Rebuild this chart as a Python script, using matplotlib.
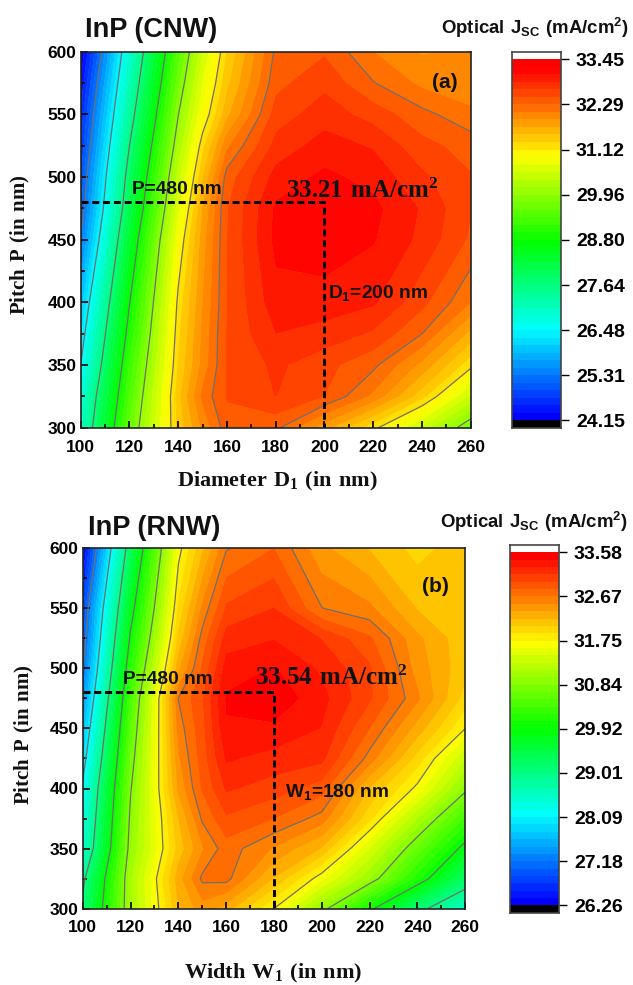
import numpy as np
import matplotlib
matplotlib.use("Agg")
import matplotlib.pyplot as plt
from matplotlib.colors import LinearSegmentedColormap, ListedColormap, BoundaryNorm
from matplotlib.ticker import MultipleLocator

plt.rcParams['font.family'] = ['Liberation Sans']
plt.rcParams['mathtext.fontset'] = 'custom'
plt.rcParams['mathtext.bf'] = 'Liberation Sans:bold'
plt.rcParams['mathtext.rm'] = 'Liberation Serif:bold'
plt.rcParams['mathtext.default'] = 'regular'

W, H = 633, 985

x_nm = [100, 120, 140, 150, 160, 180, 200, 220, 240, 260]

p_a = [300, 325, 350, 375, 400, 450, 475, 500, 525, 550, 575, 600]
z_a = [
    [27.01, 29.62, 31.39, 31.95, 32.40, 32.34, 31.80, 31.20, 30.50, 29.75],
    [26.81, 29.41, 31.45, 32.15, 32.50, 32.68, 32.48, 32.05, 31.40, 30.50],
    [26.48, 29.22, 31.34, 31.98, 32.50, 32.72, 32.55, 32.34, 31.85, 31.20],
    [26.24, 28.99, 31.27, 31.95, 32.50, 32.87, 32.80, 32.65, 32.29, 31.65],
    [25.98, 28.78, 31.19, 31.90, 32.48, 32.99, 32.97, 32.90, 32.55, 32.10],
    [25.35, 28.34, 30.92, 31.81, 32.48, 33.12, 33.20, 33.08, 32.82, 32.45],
    [25.10, 28.06, 30.68, 31.72, 32.47, 33.10, 33.21, 33.12, 32.85, 32.50],
    [24.95, 27.88, 30.45, 31.51, 32.38, 32.95, 33.11, 33.00, 32.72, 32.50],
    [24.75, 27.64, 30.19, 31.26, 32.06, 32.75, 32.96, 32.85, 32.55, 32.40],
    [24.59, 27.37, 29.95, 30.93, 31.66, 32.58, 32.78, 32.60, 32.35, 32.15],
    [24.38, 27.13, 29.70, 30.74, 31.46, 32.42, 32.63, 32.30, 32.05, 31.95],
    [24.15, 26.90, 29.47, 30.53, 31.33, 32.33, 32.46, 32.10, 31.88, 31.95],
]

p_b = [300, 325, 350, 375, 400, 425, 450, 475, 500, 525, 550, 600]
z_b = [
    [29.10, 31.10, 32.20, 32.45, 32.30, 31.75, 30.95, 30.00, 29.13, 28.55],
    [28.90, 31.10, 32.30, 32.70, 32.72, 32.20, 31.65, 31.00, 30.13, 29.25],
    [28.45, 30.97, 32.12, 32.50, 32.75, 32.50, 32.20, 31.45, 30.63, 29.80],
    [28.30, 30.90, 32.21, 32.69, 32.95, 32.82, 32.60, 31.95, 31.15, 30.35],
    [28.16, 30.81, 32.40, 32.84, 33.15, 33.05, 32.90, 32.20, 31.70, 30.90],
    [27.90, 30.69, 32.49, 32.90, 33.30, 33.22, 33.17, 32.60, 32.00, 31.30],
    [27.65, 30.56, 32.58, 32.93, 33.41, 33.40, 33.27, 32.82, 32.30, 31.75],
    [27.39, 30.41, 32.67, 32.96, 33.45, 33.54, 33.33, 33.00, 32.55, 32.00],
    [27.14, 30.20, 32.33, 32.85, 33.35, 33.44, 33.25, 33.00, 32.45, 32.10],
    [26.98, 29.98, 32.10, 32.73, 33.20, 33.27, 33.12, 32.85, 32.40, 32.10],
    [26.85, 29.75, 31.94, 32.55, 33.00, 33.13, 32.67, 32.55, 32.20, 32.05],
    [26.34, 29.29, 31.68, 32.19, 32.65, 32.82, 32.40, 32.20, 32.00, 32.15],
]

ticks_a = ["24.15", "25.31", "26.48", "27.64", "28.80", "29.96", "31.12", "32.29", "33.45"]
ticks_b = ["26.26", "27.18", "28.09", "29.01", "29.92", "30.84", "31.75", "32.67", "33.58"]

BANDS_PER_MAJOR = 6
base = LinearSegmentedColormap.from_list("r", ["#0000ff", "#00ffff", "#00ff00", "#ffff00", "#ff0000"])
n_band = 8 * BANDS_PER_MAJOR

fig = plt.figure(figsize=(W / 100, H / 100), dpi=100)


def rect(l, t, r, b):
    return [l / W, 1 - b / H, (r - l) / W, (b - t) / H]


def panel(box, cbox, p, z, tick_labels, red_end, xlabel, title, title_xy, tag, tag_xy,
          peak_x, peak_y, peak_txt, peak_xy, ptxt_xy, dtxt, dtxt_xy, cb_title_xy, xl_xy, yl_xy):
    vmin, vmax = float(tick_labels[0]), float(tick_labels[-1])
    lev = np.linspace(vmin, vmax, n_band + 1)
    cmap = ListedColormap([base(min(1.0, i / red_end)) for i in range(n_band)])
    norm = BoundaryNorm(lev, n_band)
    ax = fig.add_axes(rect(*box))
    X, Y = np.meshgrid(x_nm, p)
    Z = np.array(z)
    ax.contourf(X, Y, Z, levels=lev, cmap=cmap, norm=norm, antialiased=True)
    ax.contourf(X, Y, Z, levels=lev, cmap=cmap, norm=norm, antialiased=True)
    ax.contour(X, Y, Z, levels=lev[::BANDS_PER_MAJOR], colors="#6f6f6f", linewidths=0.9)
    ax.set_xlim(100, 260)
    ax.set_ylim(300, 600)
    ax.xaxis.set_major_locator(MultipleLocator(20))
    ax.xaxis.set_minor_locator(MultipleLocator(10))
    ax.yaxis.set_major_locator(MultipleLocator(50))
    ax.yaxis.set_minor_locator(MultipleLocator(25))
    ax.tick_params(which="major", direction="in", length=5, width=1.2, labelsize=12.5)
    ax.tick_params(which="minor", direction="in", length=3, width=1.2)
    ax.tick_params(axis="x", which="major", pad=8.5)
    ax.tick_params(axis="y", which="major", pad=3)
    for lab in ax.get_xticklabels() + ax.get_yticklabels():
        lab.set_fontweight("bold")
    for s in ax.spines.values():
        s.set_linewidth(1.2)
        s.set_color("#222222")
    ax.plot([100, peak_x, peak_x], [peak_y, peak_y, 300], color="black", lw=2.1,
            dashes=(2.4, 1.3))

    def px(xp, yp, s, **kw):
        fig.text(xp / W, 1 - yp / H, s, **kw)

    px(*title_xy, title, fontsize=19.5, fontweight="bold", ha="left", va="center", color="#111111")
    px(*tag_xy, tag, fontsize=15, fontweight="bold", ha="center", va="center", color="#111111")
    px(*peak_xy, peak_txt, fontsize=18, ha="left", va="center", color="#111111")
    px(*ptxt_xy, "P=480 nm", fontsize=13.8, fontweight="bold", ha="left", va="center", color="#111111")
    px(*dtxt_xy, dtxt, fontsize=13.8, fontweight="bold", ha="left", va="center", color="#111111")
    px(*xl_xy, xlabel, fontsize=16, ha="center", va="center", color="#111111")
    px(*yl_xy, r"$\mathrm{Pitch\ P\ (in\ nm)}$", fontsize=15, rotation=90, ha="center", va="center",
       color="#111111")
    px(*cb_title_xy, r"$\mathbf{Optical\ J_{SC}\ (mA/cm^2)}$", fontsize=13.4, ha="center", va="center",
       color="#111111")

    cax = fig.add_axes(rect(*cbox))
    step = lev[1] - lev[0]
    cax.pcolormesh([0, 1], lev, (0.5 * (lev[:-1] + lev[1:]))[:, None], cmap=cmap, norm=norm, antialiased=False)
    cax.axhspan(vmin - step, vmin, color="black", lw=0)
    cax.axhspan(vmax, vmax + step, color="white", lw=0)
    cax.set_ylim(vmin - step, vmax + step)
    cax.set_xlim(0, 1)
    cax.set_xticks([])
    cax.yaxis.tick_right()
    cax.set_yticks(lev[::BANDS_PER_MAJOR])
    cax.set_yticklabels(tick_labels, fontweight="bold")
    cax.tick_params(axis="y", direction="out", length=6, width=1.0, labelsize=14, pad=5)
    for s in cax.spines.values():
        s.set_linewidth(1.2)
        s.set_color("#444444")


panel((80.7, 51.7, 470.7, 427.7), (511.7, 51.7, 560.7, 428), p_a, z_a, ticks_a, n_band - 1.8,
      r"$\mathrm{Diameter\ D_1\ (in\ nm)}$", "InP (CNW)", (85, 30), "(a)", (445, 83),
      200, 480, r"$\mathrm{33.21\ mA/cm^2}$", (286, 191), (132, 189), r"D$_{\mathbf{1}}$=200 nm", (328, 293),
      (535, 28), (277, 481), (20, 245))
panel((82.7, 548.3, 465.3, 908.6), (510, 545, 558.7, 912.7), p_b, z_b, ticks_b, n_band - 1.0,
      r"$\mathrm{Width\ W_1\ (in\ nm)}$", "InP (RNW)", (88, 528), "(b)", (435, 586),
      180, 480, r"$\mathrm{33.54\ mA/cm^2}$", (255, 678), (123, 680), r"W$_{\mathbf{1}}$=180 nm", (285, 792),
      (534, 522), (273, 973), (24, 735))

fig.savefig("out.png", dpi=100)
